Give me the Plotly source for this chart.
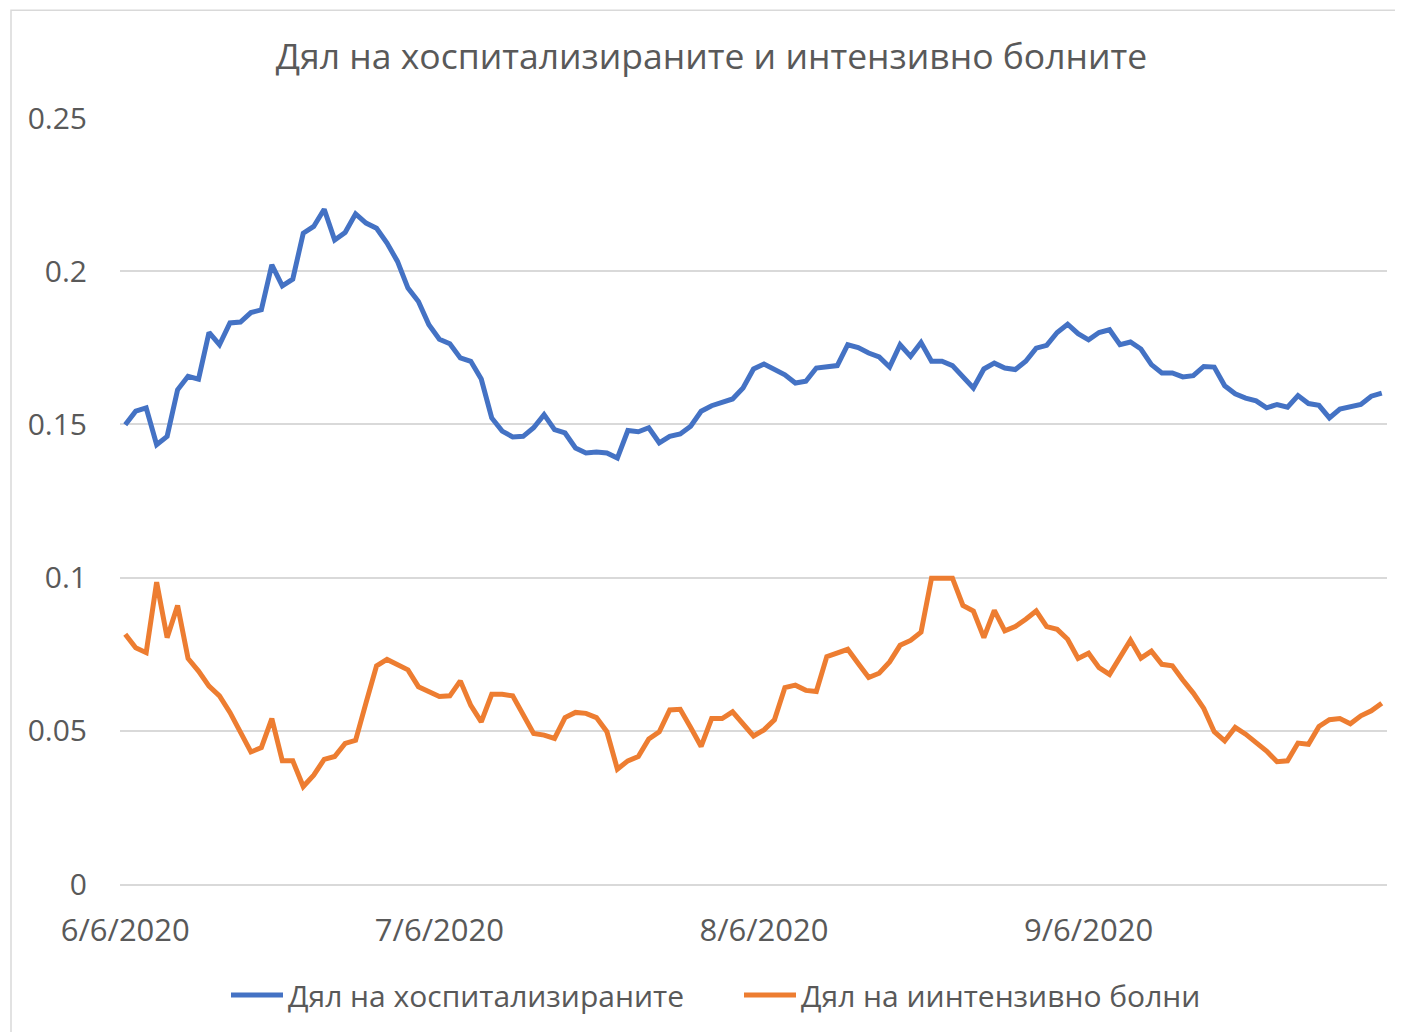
import plotly.graph_objects as go
import pandas as pd

start_date = "2020-06-06"
n_days = 121
dates = pd.date_range(start_date, periods=n_days, freq="D")

hospitalized_share = [
    0.1499, 0.1543, 0.1554, 0.1434, 0.1461, 0.1613, 0.1657, 0.1648, 0.1800, 0.1760,
    0.1831, 0.1834, 0.1865, 0.1874, 0.2021, 0.1952, 0.1974, 0.2124, 0.2146, 0.2202,
    0.2102, 0.2126, 0.2187, 0.2157, 0.2140, 0.2092, 0.2032, 0.1945, 0.1901, 0.1825,
    0.1778, 0.1763, 0.1717, 0.1706, 0.1648, 0.1521, 0.1478, 0.1459, 0.1461, 0.1489,
    0.1532, 0.1483, 0.1472, 0.1423, 0.1407, 0.1410, 0.1407, 0.1390, 0.1480, 0.1476,
    0.1489, 0.1440, 0.1461, 0.1469, 0.1494, 0.1543, 0.1561, 0.1570, 0.1583, 0.1619,
    0.1681, 0.1697, 0.1681, 0.1662, 0.1635, 0.1641, 0.1684, 0.1687, 0.1692, 0.1760,
    0.1751, 0.1733, 0.1720, 0.1687, 0.1760, 0.1722, 0.1767, 0.1706, 0.1706, 0.1692,
    0.1655, 0.1619, 0.1681, 0.1700, 0.1684, 0.1679, 0.1706, 0.1749, 0.1758, 0.1800,
    0.1827, 0.1796, 0.1776, 0.1800, 0.1809, 0.1760, 0.1769, 0.1746, 0.1695, 0.1668,
    0.1668, 0.1655, 0.1659, 0.1689, 0.1687, 0.1626, 0.1600, 0.1586, 0.1577, 0.1554,
    0.1565, 0.1556, 0.1594, 0.1568, 0.1562, 0.1521, 0.1550, 0.1556, 0.1565, 0.1592,
    0.1602,
]

icu_share = [
    0.0815, 0.0771, 0.0755, 0.0985, 0.0804, 0.0909, 0.0736, 0.0695, 0.0646, 0.0614,
    0.0560, 0.0497, 0.0431, 0.0445, 0.0540, 0.0402, 0.0402, 0.0318, 0.0355, 0.0407,
    0.0416, 0.0459, 0.0469, 0.0592, 0.0712, 0.0733, 0.0717, 0.0699, 0.0644, 0.0627,
    0.0612, 0.0614, 0.0663, 0.0583, 0.0529, 0.0619, 0.0619, 0.0614, 0.0551, 0.0491,
    0.0486, 0.0475, 0.0543, 0.0560, 0.0557, 0.0543, 0.0497, 0.0375, 0.0402, 0.0416,
    0.0473, 0.0497, 0.0568, 0.0570, 0.0511, 0.0449, 0.0540, 0.0540, 0.0562, 0.0522,
    0.0483, 0.0503, 0.0536, 0.0641, 0.0649, 0.0632, 0.0628, 0.0742, 0.0755, 0.0766,
    0.0720, 0.0674, 0.0688, 0.0725, 0.0779, 0.0795, 0.0822, 0.0998, 0.0998, 0.0998,
    0.0909, 0.0891, 0.0804, 0.0893, 0.0826, 0.0840, 0.0864, 0.0891, 0.0840, 0.0831,
    0.0799, 0.0736, 0.0753, 0.0706, 0.0684, 0.0742, 0.0796, 0.0737, 0.0760, 0.0717,
    0.0712, 0.0666, 0.0623, 0.0573, 0.0497, 0.0467, 0.0511, 0.0489, 0.0462, 0.0434,
    0.0399, 0.0402, 0.0460, 0.0456, 0.0514, 0.0536, 0.0540, 0.0523, 0.0549, 0.0565,
    0.0590,
]

series_names = ["Дял на хоспитализираните", "Дял на иинтензивно болни"]
title_text = "Дял на хоспитализираните и интензивно болните"
x_tick_dates = ["2020-06-06", "2020-07-06", "2020-08-06", "2020-09-06"]
y_tick_values = [0, 0.05, 0.1, 0.15, 0.2, 0.25]

FONT = "Open Sans"
TEXT = "#595959"
GRID = "#D9D9D9"

# page body has an 8px margin; work in page pixel coordinates shifted by it
OFF = 8
W, H = 1403 - OFF, 1032 - OFF
L, R, T, B = 120 - OFF, 1387 - OFF, 118 - OFF, 885 - OFF


def px_x(px):
    return (px - OFF - L) / (R - L)


def px_y(py):
    return (B - (py - OFF)) / (B - T)


fig = go.Figure()
fig.add_trace(go.Scatter(x=dates, y=hospitalized_share, mode="lines", name=series_names[0],
                         line=dict(color="#4472C4", width=5)))
fig.add_trace(go.Scatter(x=dates, y=icu_share, mode="lines", name=series_names[1],
                         line=dict(color="#ED7D31", width=5)))

fig.update_layout(
    width=W, height=H,
    margin=dict(l=L, r=W - R, t=T, b=H - B),
    paper_bgcolor="white", plot_bgcolor="white",
    font=dict(family=FONT, color=TEXT, size=30),
    title=dict(text=title_text, x=(711.5 - OFF) / W, xanchor="center",
               y=1 - (57 - OFF) / H, yanchor="middle",
               font=dict(family=FONT, size=35.5, color=TEXT)),
    showlegend=True,
    legend=dict(orientation="h", x=px_x(226), xanchor="left", y=px_y(995), yanchor="middle",
                font=dict(family=FONT, size=30, color=TEXT), itemwidth=52,
                entrywidth=446, entrywidthmode="pixels",
                bgcolor="rgba(0,0,0,0)", tracegroupgap=0),
    xaxis=dict(
        type="date",
        range=[pd.Timestamp(start_date) - pd.Timedelta(hours=12),
               pd.Timestamp(start_date) + pd.Timedelta(days=n_days - 1, hours=12)],
        tickvals=x_tick_dates, tickformat="%-m/%-d/%Y",
        showgrid=False, zeroline=False, showline=True, linecolor=GRID, linewidth=2,
        ticks="", ticklabelstandoff=18,
        tickfont=dict(family=FONT, size=31, color=TEXT),
    ),
    yaxis=dict(
        range=[0, 0.25], tickvals=y_tick_values,
        showgrid=True, gridcolor=GRID, gridwidth=2, zeroline=False, showline=False,
        ticks="", ticklabelstandoff=32,
        tickfont=dict(family=FONT, size=30, color=TEXT),
    ),
    shapes=[dict(type="rect", xref="paper", yref="paper",
                 x0=px_x(11), x1=px_x(1420), y0=px_y(1050), y1=px_y(10),
                 line=dict(color=GRID, width=1.5), fillcolor="rgba(0,0,0,0)", layer="below")],
)

fig.write_html("out.html")
